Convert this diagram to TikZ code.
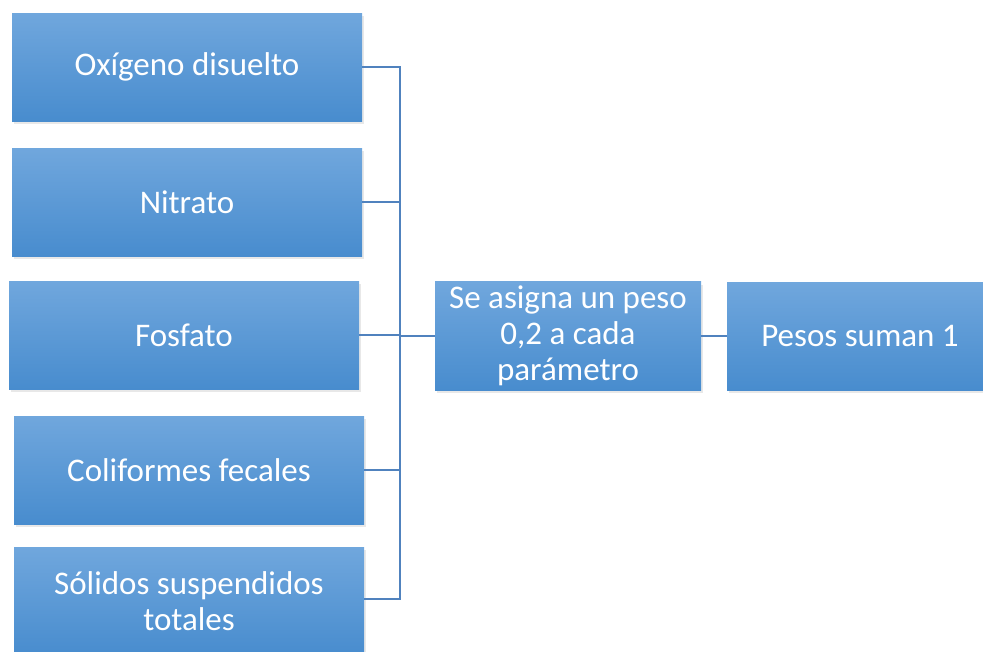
\documentclass[tikz,border=0pt]{standalone}
\usepackage{fontspec}
\setmainfont{Carlito}
\usepackage{tikz}
\usetikzlibrary{shadows}
\usepackage{xcolor}
\definecolor{boxtop}{RGB}{112,167,221}
\definecolor{boxbot}{RGB}{72,140,206}
\definecolor{linkcol}{RGB}{80,130,190}
\tikzstyle{param}=[rectangle,minimum width=350,minimum height=108,inner sep=4,
  top color=boxtop,bottom color=boxbot,text=white,align=center,
  font=\fontsize{33}{36}\selectfont,
  drop shadow={opacity=0.18,shadow xshift=2pt,shadow yshift=-3pt}]
\tikzstyle{link}=[linkcol,line width=2.5]

\begin{document}
\begin{tikzpicture}[x=1pt,y=-1pt]
  \useasboundingbox (0,0) rectangle (983,651);
  \clip (0,0) rectangle (983,651);

  \node[param] (ox) at (187,67) {Oxígeno disuelto};
  \node[param] (ni) at (187,202) {Nitrato};
  \node[param] (fo) at (184,335) {Fosfato};
  \node[param] (co) at (189,470) {Coliformes fecales};
  \node[param] (so) at (189,601) {Sólidos suspendidos\\totales};
  \node[param,minimum width=266] (se) at (568,336) {Se asigna un peso\\0,2 a cada\\parámetro};
  \node[param,minimum width=266] (pe) at (860,336) {Pesos suman 1};

  \coordinate (j) at (400,336);
  \draw[link] (ox.east) -| (j);
  \draw[link] (ni.east) -| (j);
  \draw[link] (fo.east) -| (j);
  \draw[link] (co.east) -| (j);
  \draw[link] (so.east |- 0,599) -| (j);
  \draw[link] (j) -- (se.west);
  \draw[link] (se.east) -- (pe.west);
\end{tikzpicture}
\end{document}
